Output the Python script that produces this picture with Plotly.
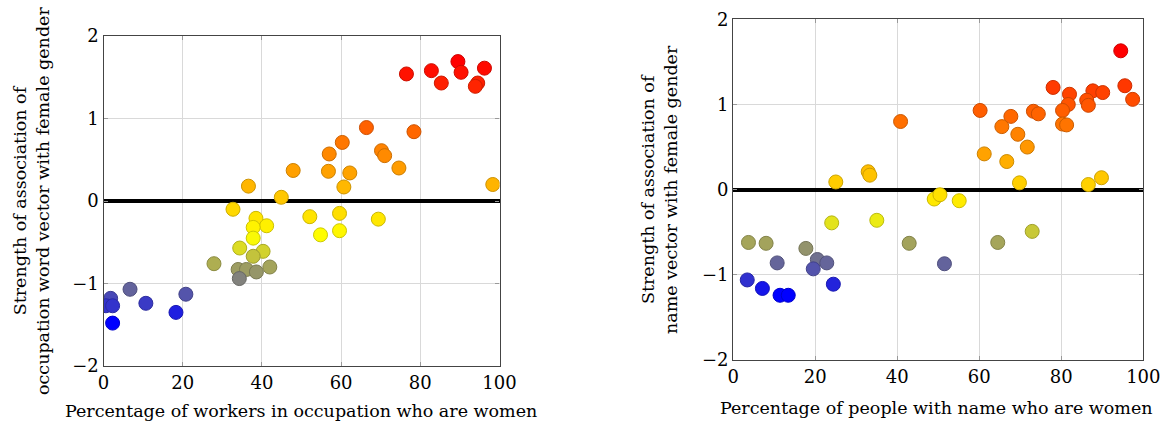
import plotly.graph_objects as go

# Left panel: occupations
occ_pct_women = [36.6, 47.9, 44.9, 32.7, 76.5, 82.8, 85.3, 89.5, 90.3, 94.5, 93.9, 96.2,
                 66.4, 78.4, 60.3, 57.0, 70.2, 71.0, 56.8, 62.2, 74.6, 60.7, 98.3,
                 52.1, 59.6, 54.8, 59.6, 69.4, 38.5, 41.2, 37.8, 37.8, 34.4, 40.3, 37.8,
                 27.9, 34.0, 36.1, 38.6, 42.0, 34.3, 6.7, 20.8, 1.8, 0.6, 2.3, 10.7, 18.3, 2.3]
occ_strength = [0.18, 0.37, 0.045, -0.10, 1.54, 1.58, 1.43, 1.69, 1.56, 1.43, 1.39, 1.61,
                0.89, 0.84, 0.71, 0.57, 0.61, 0.55, 0.36, 0.34, 0.40, 0.17, 0.20,
                -0.19, -0.15, -0.41, -0.36, -0.22, -0.21, -0.30, -0.32, -0.45, -0.57, -0.61, -0.67,
                -0.76, -0.83, -0.83, -0.86, -0.80, -0.94, -1.07, -1.13, -1.18, -1.27, -1.27, -1.24, -1.35, -1.48]

# Right panel: names
name_pct_women = [40.8, 32.9, 33.3, 25.0, 94.5, 78.0, 82.0, 87.7, 90.1, 95.5, 97.4, 86.2, 86.6,
                  81.7, 80.3, 60.2, 67.7, 73.2, 74.4, 65.5, 80.3, 81.3, 69.4, 71.7, 61.2, 66.7,
                  69.8, 86.6, 89.8, 49.0, 50.4, 55.1, 64.5, 72.9, 51.5, 24.0, 35.0,
                  3.7, 8.0, 17.7, 42.9, 10.7, 20.5, 22.8, 19.5, 3.4, 7.1, 11.4, 13.4, 24.4]
name_strength = [0.80, 0.21, 0.17, 0.09, 1.63, 1.20, 1.12, 1.16, 1.14, 1.22, 1.06, 1.05, 0.99,
                 1.00, 0.93, 0.93, 0.86, 0.92, 0.89, 0.74, 0.77, 0.76, 0.65, 0.50, 0.42, 0.33,
                 0.08, 0.06, 0.14, -0.11, -0.06, -0.13, -0.62, -0.49, -0.87, -0.39, -0.36,
                 -0.62, -0.63, -0.69, -0.63, -0.86, -0.82, -0.86, -0.93, -1.06, -1.16, -1.24, -1.24, -1.11]

x_ticks = [0, 20, 40, 60, 80, 100]
y_ticks = [-2, -1, 0, 1, 2]
y_tick_text = ["\u22122", "\u22121", "0", "1", "2"]

left_xtitle = "Percentage of workers in occupation who are women"
left_ytitle = "Strength of association of<br>occupation word vector with female gender"
right_xtitle = "Percentage of people with name who are women"
right_ytitle = "Strength of association of<br>name vector with female gender"

STOPS = [(0.0, (0, 0, 255)), (1/3, (255, 255, 0)), (2/3, (255, 128, 0)), (1.0, (255, 0, 0))]


def cmap(v, lo, hi):
    t = (v - lo) / (hi - lo) if hi > lo else 0.0
    t = min(max(t, 0.0), 1.0)
    for (p0, c0), (p1, c1) in zip(STOPS[:-1], STOPS[1:]):
        if t <= p1:
            f = (t - p0) / (p1 - p0)
            return tuple(c0[i] + f * (c1[i] - c0[i]) for i in range(3))
    return STOPS[-1][1]


def colors_for(vals):
    lo, hi = min(vals), max(vals)
    fills, lines = [], []
    for v in vals:
        c = cmap(v, lo, hi)
        fills.append("rgb(%d,%d,%d)" % tuple(round(x) for x in c))
        lines.append("rgb(%d,%d,%d)" % tuple(round(x * 0.8) for x in c))
    return fills, lines


FONT = "DejaVu Serif"
TICK_SIZE = 18
TITLE_SIZE = 17.5
fig = go.Figure()

for xs, ys, xa, ya in [(occ_pct_women, occ_strength, "x", "y"),
                       (name_pct_women, name_strength, "x2", "y2")]:
    fills, lines = colors_for(ys)
    fig.add_trace(go.Scatter(x=xs, y=ys, mode="markers", xaxis=xa, yaxis=ya,
                             marker=dict(size=14, color=fills,
                                         line=dict(color=lines, width=1)),
                             showlegend=False, hoverinfo="x+y"))

axis_common = dict(range=[0, 100], tickvals=x_ticks, showgrid=True, gridcolor="#d9d9d9",
                   gridwidth=1, showline=True, linecolor="#444", linewidth=1.3, mirror="ticks",
                   ticks="inside", ticklen=4, tickcolor="#999", zeroline=False,
                   automargin=False,
                   tickfont=dict(family=FONT, size=TICK_SIZE, color="black"))
yaxis_common = dict(range=[-2, 2], tickvals=y_ticks, ticktext=y_tick_text, showgrid=True,
                    gridcolor="#d9d9d9", gridwidth=1, showline=True, linecolor="#444",
                    linewidth=1.3, mirror="ticks", ticks="inside", ticklen=4, tickcolor="#999",
                    zeroline=True, zerolinecolor="black", zerolinewidth=4,
                    automargin=False,
                    tickfont=dict(family=FONT, size=TICK_SIZE, color="black"))

W, H = 1167, 424
fig.update_layout(
    width=W, height=H, margin=dict(l=0, r=0, t=0, b=0, pad=0), autosize=False,
    paper_bgcolor="white", plot_bgcolor="white",
    xaxis=dict(domain=[103.5 / W, 499.5 / W], anchor="y", **axis_common),
    yaxis=dict(domain=[1 - 366 / H, 1 - 36 / H], anchor="x", **yaxis_common),
    xaxis2=dict(domain=[733.3 / W, 1143.3 / W], anchor="y2", **axis_common),
    yaxis2=dict(domain=[1 - 360 / H, 1 - 19.3 / H], anchor="x2", **yaxis_common),
    font=dict(family=FONT, size=TICK_SIZE, color="black"),
)

annots = [
    dict(text=left_xtitle, x=301 / W, y=1 - 411 / H, textangle=0),
    dict(text=right_xtitle, x=936 / W, y=1 - 408 / H, textangle=0),
    dict(text=left_ytitle, x=31 / W, y=1 - 201 / H, textangle=-90),
    dict(text=right_ytitle, x=659 / W, y=1 - 190 / H, textangle=-90),
]
for a in annots:
    fig.add_annotation(xref="paper", yref="paper", showarrow=False, xanchor="center",
                       yanchor="middle", font=dict(family=FONT, size=TITLE_SIZE, color="black"), **a)

fig.write_html("out.html")
